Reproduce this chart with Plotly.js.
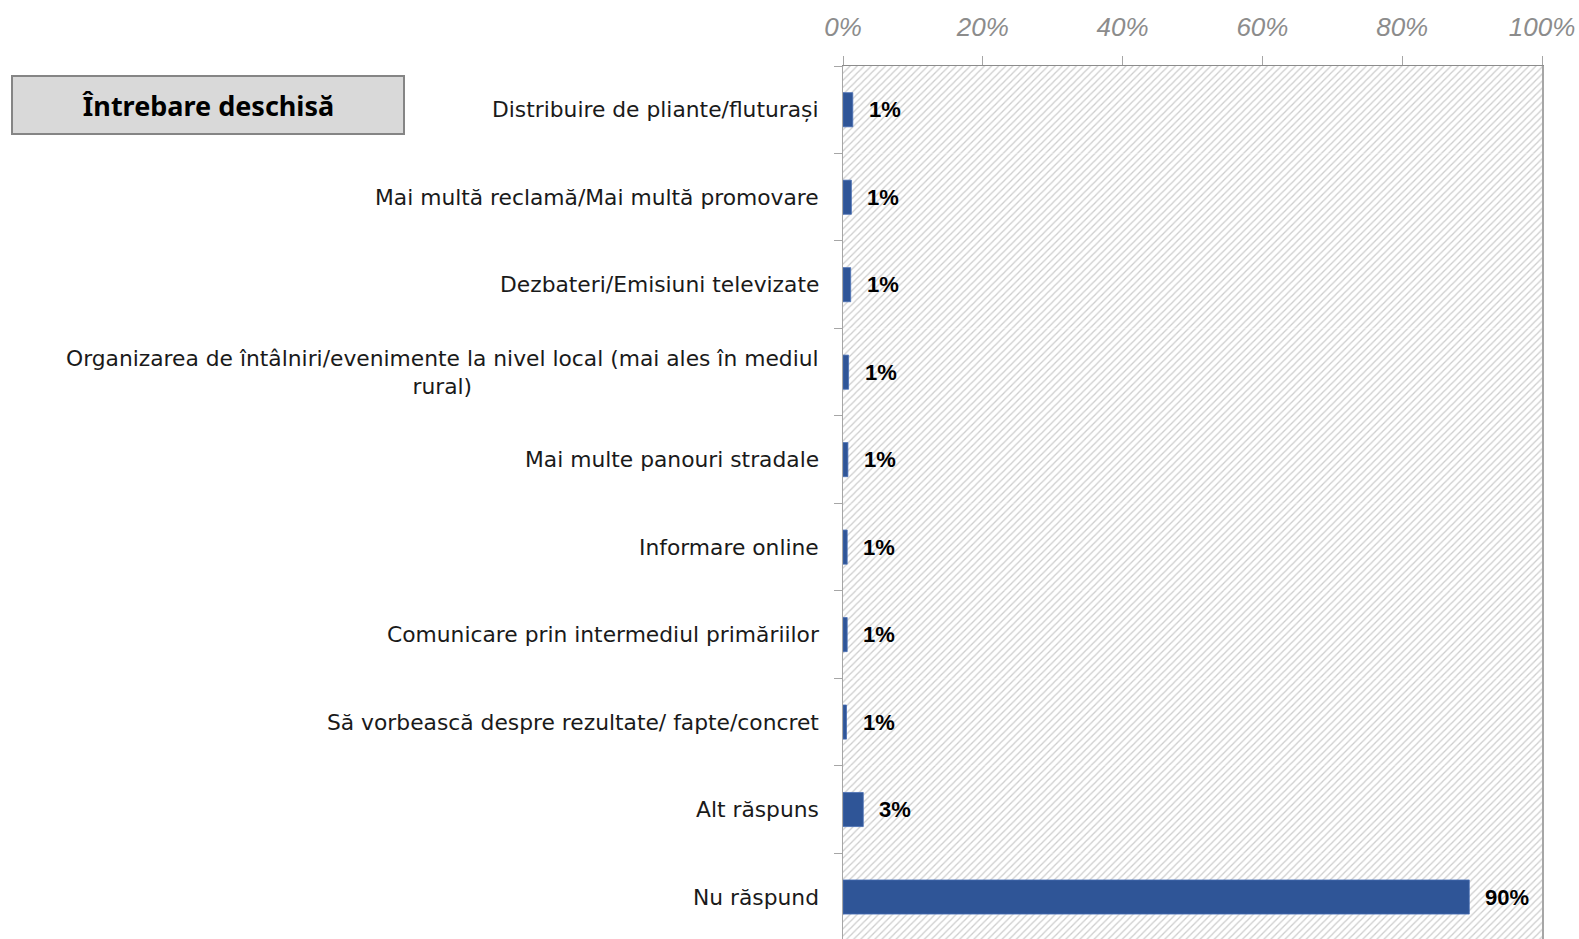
<!DOCTYPE html>
<html>
<head>
<meta charset="utf-8">
<script src="https://cdn.plot.ly/plotly-3.0.1.min.js"></script>
<style>html,body{margin:0;padding:0;background:#fff;}#chart{width:1579px;height:939px;}</style>
</head>
<body>
<div id="chart"></div>
<script>
const categories = [
  "Distribuire de pliante/fluturași",
  "Mai multă reclamă/Mai multă promovare",
  "Dezbateri/Emisiuni televizate",
  "Organizarea de întâlniri/evenimente la nivel local (mai ales în mediul<br>rural)",
  "Mai multe panouri stradale",
  "Informare online",
  "Comunicare prin intermediul primăriilor",
  "Să vorbească despre rezultate/ fapte/concret",
  "Alt răspuns",
  "Nu răspund"
];
const values = [1.4, 1.2, 1.1, 0.8, 0.7, 0.6, 0.6, 0.5, 2.9, 89.6];
const valueLabels = ["1%", "1%", "1%", "1%", "1%", "1%", "1%", "1%", "3%", "90%"];
const backgroundValues = [100, 100, 100, 100, 100, 100, 100, 100, 100, 100];
const xTickValues = [0, 20, 40, 60, 80, 100];
const xTickLabels = ["0%", "20%", "40%", "60%", "80%", "100%"];
const boxTitle = "Întrebare deschisă";

const traces = [
  {
    type: "bar", orientation: "h", y: categories, x: backgroundValues, width: 1,
    marker: { color: "#ffffff", line: { width: 0 },
      pattern: { shape: "/", fgcolor: "#cdcdcd", bgcolor: "#ffffff", size: 5, solidity: 0.25 } },
    hoverinfo: "skip", showlegend: false
  },
  {
    type: "bar", orientation: "h", y: categories, x: values, width: 0.39,
    marker: { color: "#2f5597", line: { color: "#4a70b5", width: 0.8 } },
    showlegend: false
  }
];

const annotations = [];
categories.forEach((c, i) => {
  annotations.push({
    xref: "paper", yref: "y", x: 0, y: c, xanchor: "right", yanchor: "middle",
    xshift: -22, text: c, showarrow: false, align: "center",
    font: { family: "DejaVu Sans", size: 21.8, color: "#1a1a1a" }
  });
  annotations.push({
    xref: "x", yref: "y", x: values[i], y: c, xanchor: "left", yanchor: "middle",
    xshift: 14, text: "<b>" + valueLabels[i] + "</b>", showarrow: false,
    font: { family: "Liberation Sans", size: 22, color: "#000000" }
  });
});
annotations.push({
  xref: "paper", yref: "paper", x: (208 - 843) / 699, y: 1 - (104.7 - 65.5) / 873.5,
  xanchor: "center", yanchor: "middle", text: "<b>" + boxTitle + "</b>", showarrow: false,
  width: 388, height: 54, bgcolor: "#d9d9d9", bordercolor: "#858585", borderwidth: 2,
  font: { family: "Noto Sans", size: 27, color: "#000000" }
});

const layout = {
  width: 1579, height: 939,
  margin: { l: 843, r: 37, t: 65.5, b: 0, pad: 0 },
  paper_bgcolor: "#ffffff", plot_bgcolor: "#ffffff",
  barmode: "overlay", showlegend: false,
  xaxis: {
    side: "top", range: [0, 100], tickvals: xTickValues, ticktext: xTickLabels,
    showgrid: false, zeroline: false, showline: true, linecolor: "#8c8c8c", linewidth: 1.5,
    ticks: "outside", ticklen: 9, tickcolor: "#a6a6a6", tickwidth: 1,
    ticklabelstandoff: 9,
    tickfont: { family: "Liberation Sans Narrow, Liberation Sans", size: 26, color: "#8c8c8c", style: "italic" },
    fixedrange: true
  },
  yaxis: {
    type: "category", autorange: false, range: [9.48, -0.5],
    categoryorder: "array", categoryarray: categories,
    showticklabels: false, showgrid: false, zeroline: false,
    showline: true, linecolor: "#a6a6a6", linewidth: 1.5, mirror: true,
    ticks: "outside", tickson: "boundaries", ticklen: 8, tickcolor: "#a6a6a6",
    fixedrange: true
  },
  annotations: annotations
};

Plotly.newPlot("chart", traces, layout, { displayModeBar: false, staticPlot: true });
</script>
</body>
</html>
